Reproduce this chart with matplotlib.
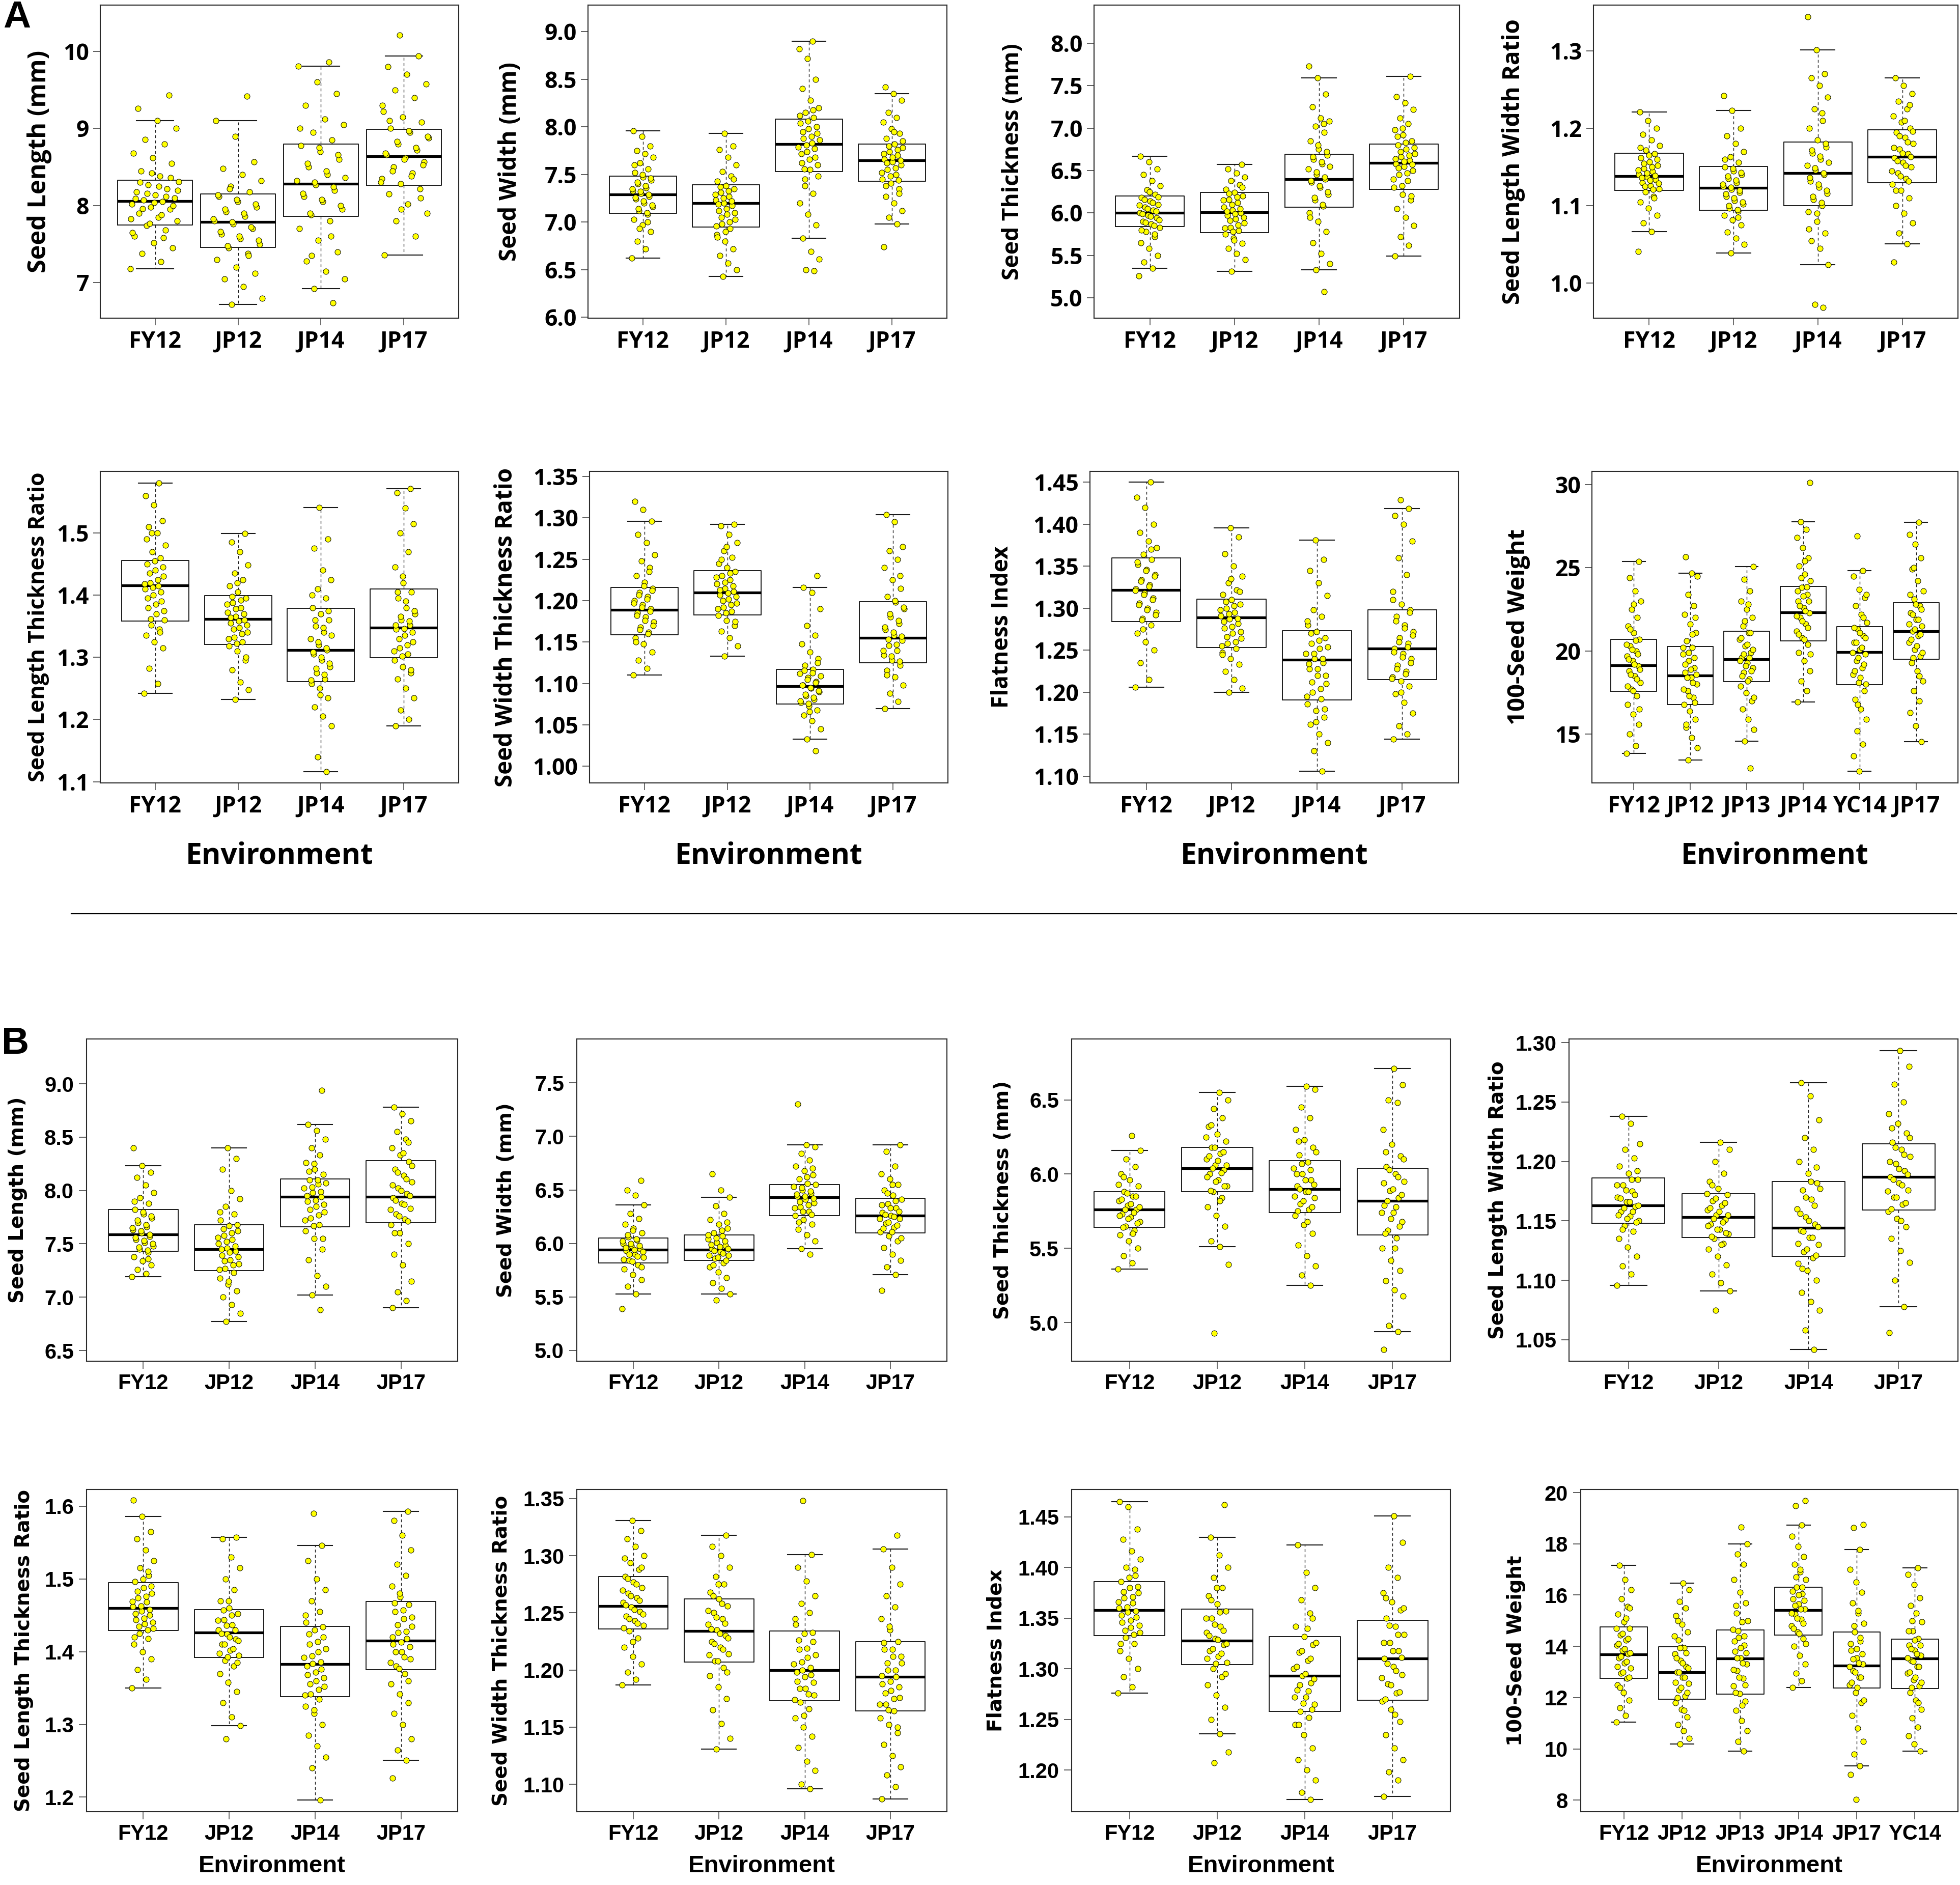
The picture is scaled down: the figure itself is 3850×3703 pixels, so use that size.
import matplotlib
matplotlib.use("Agg")
import matplotlib.pyplot as plt
import numpy as np
from matplotlib.ticker import MultipleLocator, FormatStrFormatter

# ---------------- categories / labels ----------------
ENV_4 = ["FY12", "JP12", "JP14", "JP17"]
ENV_6A = ["FY12", "JP12", "JP13", "JP14", "YC14", "JP17"]
ENV_6B = ["FY12", "JP12", "JP13", "JP14", "JP17", "YC14"]

YLABELS = ["Seed Length (mm)", "Seed Width (mm)", "Seed Thickness (mm)",
           "Seed Length Width Ratio", "Seed Length Thickness Ratio",
           "Seed Width Thickness Ratio", "Flatness Index", "100-Seed Weight"]

# box stats per group: whisker low, q1, median, q3, whisker high
# point lists: estimated seed values per group (incl. outliers)

# ---------------- panel A ----------------
A_LEN_BOX = [[7.18, 7.75, 8.06, 8.33, 9.10], [6.72, 7.46, 7.79, 8.15, 9.10],
             [6.92, 7.86, 8.28, 8.80, 9.81], [7.36, 8.26, 8.64, 8.99, 9.94]]
A_LEN_PTS = [
    [7.18, 7.27, 7.38, 7.45, 7.52, 7.6, 7.68, 7.74, 7.8, 7.85, 7.9, 7.95, 7.98, 8.02, 8.05, 8.07, 8.1,
     8.14, 8.18, 8.22, 8.27, 8.31, 8.38, 8.45, 8.55, 8.62, 8.68, 8.8, 8.86, 9.0, 9.1, 9.26, 9.43,
     7.77, 7.83, 7.88, 7.96, 8.0, 8.04, 8.09, 8.12, 8.16, 8.2, 8.25, 8.3, 8.36, 8.42, 7.65, 7.58],
    [6.72, 6.8, 6.95, 7.05, 7.12, 7.2, 7.3, 7.38, 7.45, 7.5, 7.57, 7.63, 7.7, 7.76, 7.8, 7.86, 7.92,
     7.98, 8.05, 8.12, 8.18, 8.25, 8.32, 8.4, 8.48, 8.57, 8.9, 9.1, 9.42,
     7.48, 7.55, 7.6, 7.66, 7.72, 7.79, 7.83, 7.9, 7.95, 8.02, 8.08, 8.14, 7.35, 8.22],
    [6.74, 6.92, 7.05, 7.15, 7.28, 7.4, 7.55, 7.7, 7.8, 7.88, 7.95, 8.05, 8.12, 8.2, 8.27, 8.32, 8.4,
     8.5, 8.6, 8.7, 8.78, 8.85, 8.95, 9.05, 9.12, 9.3, 9.45, 9.6, 9.81, 9.86,
     7.9, 8.0, 8.08, 8.16, 8.24, 8.3, 8.36, 8.45, 8.55, 8.66, 8.75, 9.0, 7.6, 7.35],
    [7.36, 7.6, 7.8, 7.9, 8.02, 8.15, 8.22, 8.28, 8.35, 8.42, 8.5, 8.57, 8.62, 8.66, 8.72, 8.8, 8.88,
     8.95, 9.0, 9.08, 9.15, 9.22, 9.4, 9.5, 9.58, 9.7, 9.8, 9.94, 10.21,
     8.3, 8.38, 8.45, 8.53, 8.6, 8.68, 8.75, 8.83, 8.9, 8.97, 9.1, 8.1, 7.95, 9.3]]

A_WID_BOX = [[6.62, 7.09, 7.29, 7.48, 7.96], [6.43, 6.95, 7.20, 7.39, 7.93],
             [6.83, 7.53, 7.82, 8.08, 8.90], [6.98, 7.43, 7.65, 7.82, 8.35]]
A_WID_PTS = [
    [6.62, 6.72, 6.8, 6.9, 6.97, 7.03, 7.08, 7.12, 7.16, 7.2, 7.24, 7.27, 7.3, 7.33, 7.36, 7.4, 7.44,
     7.47, 7.52, 7.56, 7.62, 7.68, 7.72, 7.75, 7.8, 7.9, 7.96,
     7.1, 7.14, 7.18, 7.22, 7.26, 7.29, 7.32, 7.35, 7.38, 7.42, 7.46, 7.5, 7.6, 7.0, 6.93],
    [6.43, 6.5, 6.57, 6.65, 6.72, 6.8, 6.87, 6.93, 6.98, 7.03, 7.08, 7.12, 7.17, 7.2, 7.23, 7.27, 7.31,
     7.35, 7.38, 7.43, 7.48, 7.53, 7.6, 7.68, 7.76, 7.8, 7.93,
     6.96, 7.0, 7.05, 7.1, 7.14, 7.19, 7.22, 7.25, 7.29, 7.33, 7.37, 7.45, 6.9, 6.84],
    [6.49, 6.5, 6.61, 6.69, 6.83, 6.97, 7.08, 7.2, 7.3, 7.38, 7.48, 7.55, 7.62, 7.68, 7.74, 7.79, 7.83,
     7.88, 7.93, 7.98, 8.04, 8.1, 8.15, 8.2, 8.28, 8.4, 8.5, 8.72, 8.82, 8.9,
     7.56, 7.6, 7.66, 7.72, 7.77, 7.81, 7.86, 7.9, 7.95, 8.0, 8.06, 8.12, 8.18, 7.45],
    [6.74, 6.98, 7.05, 7.12, 7.2, 7.27, 7.35, 7.41, 7.45, 7.5, 7.55, 7.6, 7.63, 7.66, 7.7, 7.74, 7.78,
     7.82, 7.88, 7.93, 7.98, 8.05, 8.1, 8.15, 8.28, 8.35, 8.42,
     7.44, 7.48, 7.52, 7.57, 7.62, 7.65, 7.68, 7.72, 7.76, 7.8, 7.85, 7.95, 7.38, 7.3]]

A_THK_BOX = [[5.35, 5.84, 6.00, 6.20, 6.67], [5.31, 5.77, 6.01, 6.24, 6.57],
             [5.33, 6.07, 6.40, 6.69, 7.59], [5.49, 6.28, 6.59, 6.81, 7.61]]
A_THK_PTS = [
    [5.26, 5.35, 5.42, 5.5, 5.58, 5.65, 5.72, 5.78, 5.83, 5.87, 5.9, 5.94, 5.97, 6.0, 6.03, 6.07, 6.1,
     6.14, 6.18, 6.22, 6.27, 6.32, 6.38, 6.45, 6.52, 6.6, 6.67,
     5.85, 5.89, 5.92, 5.96, 5.99, 6.02, 6.05, 6.09, 6.12, 6.16, 6.19, 6.25, 5.8, 5.75],
    [5.31, 5.45, 5.52, 5.58, 5.64, 5.7, 5.75, 5.79, 5.83, 5.88, 5.93, 5.97, 6.0, 6.03, 6.07, 6.12, 6.16,
     6.2, 6.24, 6.28, 6.33, 6.38, 6.42, 6.47, 6.52, 6.57,
     5.78, 5.82, 5.86, 5.91, 5.95, 5.99, 6.02, 6.05, 6.1, 6.15, 6.19, 6.23, 6.3, 5.68],
    [5.07, 5.33, 5.4, 5.52, 5.65, 5.78, 5.9, 6.0, 6.08, 6.15, 6.22, 6.3, 6.36, 6.4, 6.45, 6.52, 6.58,
     6.63, 6.68, 6.75, 6.85, 6.95, 7.02, 7.08, 7.12, 7.25, 7.4, 7.59, 7.73,
     6.1, 6.18, 6.25, 6.32, 6.38, 6.42, 6.48, 6.55, 6.6, 6.66, 6.72, 6.8, 5.95, 7.05],
    [5.49, 5.62, 5.72, 5.85, 5.95, 6.05, 6.15, 6.22, 6.3, 6.38, 6.45, 6.5, 6.55, 6.58, 6.62, 6.66, 6.7,
     6.75, 6.8, 6.85, 6.92, 6.98, 7.05, 7.12, 7.22, 7.3, 7.37, 7.61,
     6.32, 6.4, 6.47, 6.53, 6.57, 6.61, 6.64, 6.68, 6.72, 6.77, 6.83, 6.9, 6.2, 7.0]]

A_LW_BOX = [[1.067, 1.120, 1.138, 1.168, 1.221], [1.039, 1.094, 1.123, 1.151, 1.223],
            [1.024, 1.100, 1.142, 1.182, 1.301], [1.051, 1.130, 1.163, 1.198, 1.265]]
A_LW_PTS = [
    [1.041, 1.067, 1.078, 1.088, 1.097, 1.105, 1.112, 1.118, 1.122, 1.126, 1.13, 1.134, 1.137, 1.14,
     1.144, 1.148, 1.152, 1.157, 1.162, 1.167, 1.172, 1.178, 1.185, 1.192, 1.2, 1.21, 1.221,
     1.121, 1.125, 1.129, 1.133, 1.136, 1.139, 1.142, 1.146, 1.15, 1.155, 1.16, 1.165, 1.175, 1.11],
    [1.039, 1.05, 1.058, 1.066, 1.075, 1.082, 1.088, 1.093, 1.097, 1.102, 1.107, 1.112, 1.117, 1.121,
     1.125, 1.13, 1.135, 1.14, 1.145, 1.15, 1.156, 1.163, 1.17, 1.18, 1.19, 1.2, 1.223, 1.242,
     1.095, 1.1, 1.105, 1.11, 1.115, 1.12, 1.124, 1.128, 1.133, 1.138, 1.143, 1.148, 1.16, 1.085],
    [0.969, 0.973, 1.024, 1.045, 1.055, 1.065, 1.08, 1.092, 1.1, 1.108, 1.116, 1.124, 1.132, 1.14,
     1.146, 1.152, 1.16, 1.168, 1.176, 1.185, 1.2, 1.21, 1.225, 1.24, 1.255, 1.265, 1.27, 1.301, 1.344,
     1.104, 1.112, 1.12, 1.128, 1.136, 1.142, 1.149, 1.156, 1.164, 1.172, 1.18, 1.09, 1.07, 1.22],
    [1.027, 1.051, 1.065, 1.078, 1.09, 1.1, 1.11, 1.12, 1.128, 1.135, 1.142, 1.15, 1.156, 1.162, 1.167,
     1.173, 1.18, 1.188, 1.195, 1.2, 1.208, 1.216, 1.225, 1.235, 1.245, 1.255, 1.265,
     1.132, 1.138, 1.145, 1.152, 1.158, 1.163, 1.168, 1.175, 1.182, 1.19, 1.196, 1.21, 1.12, 1.23]]

A_LT_BOX = [[1.242, 1.358, 1.416, 1.456, 1.580], [1.232, 1.321, 1.362, 1.399, 1.499],
            [1.116, 1.261, 1.312, 1.379, 1.541], [1.190, 1.299, 1.348, 1.410, 1.571]]
A_LT_PTS = [
    [1.242, 1.258, 1.282, 1.315, 1.325, 1.335, 1.345, 1.352, 1.36, 1.37, 1.38, 1.39, 1.4, 1.41, 1.415,
     1.42, 1.43, 1.44, 1.45, 1.46, 1.47, 1.48, 1.5, 1.51, 1.52, 1.545, 1.56, 1.58,
     1.362, 1.375, 1.385, 1.395, 1.405, 1.412, 1.418, 1.425, 1.435, 1.445, 1.455, 1.49, 1.34, 1.5],
    [1.232, 1.248, 1.26, 1.28, 1.295, 1.31, 1.318, 1.325, 1.332, 1.34, 1.348, 1.355, 1.36, 1.366,
     1.372, 1.38, 1.388, 1.395, 1.405, 1.415, 1.425, 1.435, 1.448, 1.47, 1.485, 1.499,
     1.322, 1.33, 1.338, 1.345, 1.352, 1.358, 1.364, 1.37, 1.378, 1.385, 1.392, 1.398, 1.3, 1.42],
    [1.116, 1.14, 1.19, 1.205, 1.22, 1.235, 1.25, 1.258, 1.265, 1.275, 1.285, 1.295, 1.305, 1.312,
     1.32, 1.33, 1.34, 1.35, 1.36, 1.37, 1.38, 1.395, 1.41, 1.425, 1.44, 1.475, 1.49, 1.541,
     1.263, 1.272, 1.282, 1.29, 1.3, 1.308, 1.315, 1.325, 1.335, 1.348, 1.36, 1.375, 1.24, 1.4],
    [1.19, 1.2, 1.215, 1.235, 1.25, 1.265, 1.275, 1.285, 1.295, 1.305, 1.315, 1.325, 1.335, 1.345,
     1.352, 1.36, 1.37, 1.38, 1.395, 1.405, 1.42, 1.445, 1.47, 1.5, 1.515, 1.54, 1.565, 1.571,
     1.302, 1.31, 1.32, 1.33, 1.34, 1.346, 1.352, 1.358, 1.366, 1.375, 1.39, 1.405, 1.28, 1.43]]

A_WT_BOX = [[1.110, 1.159, 1.189, 1.216, 1.296], [1.133, 1.183, 1.210, 1.236, 1.292],
            [1.033, 1.075, 1.097, 1.117, 1.216], [1.070, 1.125, 1.155, 1.199, 1.304]]
A_WT_PTS = [
    [1.11, 1.118, 1.128, 1.138, 1.148, 1.155, 1.162, 1.168, 1.174, 1.18, 1.185, 1.19, 1.195, 1.2,
     1.205, 1.21, 1.215, 1.222, 1.23, 1.24, 1.248, 1.255, 1.27, 1.28, 1.296, 1.31, 1.32,
     1.16, 1.165, 1.17, 1.176, 1.182, 1.187, 1.192, 1.197, 1.202, 1.207, 1.212, 1.218, 1.15, 1.235],
    [1.133, 1.145, 1.155, 1.163, 1.17, 1.176, 1.182, 1.187, 1.192, 1.197, 1.202, 1.207, 1.211, 1.215,
     1.22, 1.225, 1.23, 1.235, 1.24, 1.245, 1.252, 1.26, 1.27, 1.28, 1.29, 1.292,
     1.185, 1.19, 1.195, 1.2, 1.205, 1.209, 1.213, 1.218, 1.222, 1.228, 1.233, 1.25, 1.175, 1.265],
    [1.019, 1.033, 1.045, 1.055, 1.062, 1.068, 1.073, 1.077, 1.081, 1.085, 1.09, 1.094, 1.098, 1.102,
     1.107, 1.112, 1.117, 1.122, 1.13, 1.138, 1.148, 1.158, 1.17, 1.19, 1.21, 1.216, 1.23,
     1.076, 1.079, 1.083, 1.087, 1.091, 1.095, 1.098, 1.101, 1.105, 1.109, 1.113, 1.116, 1.125, 1.066],
    [1.07, 1.078, 1.088, 1.098, 1.108, 1.116, 1.122, 1.128, 1.134, 1.14, 1.146, 1.152, 1.158, 1.165,
     1.172, 1.18, 1.19, 1.198, 1.205, 1.215, 1.225, 1.24, 1.25, 1.26, 1.265, 1.295, 1.304,
     1.127, 1.133, 1.14, 1.147, 1.153, 1.157, 1.162, 1.168, 1.176, 1.184, 1.192, 1.2, 1.11, 1.23]]

A_FLAT_BOX = [[1.206, 1.284, 1.322, 1.360, 1.450], [1.200, 1.253, 1.289, 1.311, 1.396],
              [1.106, 1.191, 1.239, 1.273, 1.381], [1.144, 1.215, 1.252, 1.298, 1.419]]
A_FLAT_PTS = [
    [1.206, 1.215, 1.235, 1.25, 1.26, 1.27, 1.28, 1.288, 1.295, 1.3, 1.306, 1.312, 1.318, 1.323, 1.328,
     1.334, 1.34, 1.346, 1.352, 1.358, 1.364, 1.372, 1.38, 1.39, 1.4, 1.42, 1.432, 1.45,
     1.286, 1.292, 1.298, 1.304, 1.31, 1.316, 1.321, 1.326, 1.332, 1.338, 1.345, 1.355, 1.37, 1.275],
    [1.2, 1.205, 1.215, 1.225, 1.233, 1.24, 1.247, 1.252, 1.258, 1.264, 1.27, 1.276, 1.282, 1.287,
     1.291, 1.295, 1.3, 1.305, 1.31, 1.316, 1.322, 1.33, 1.338, 1.35, 1.365, 1.385, 1.396,
     1.255, 1.26, 1.266, 1.272, 1.278, 1.284, 1.288, 1.293, 1.298, 1.303, 1.308, 1.32, 1.335, 1.245],
    [1.106, 1.13, 1.14, 1.15, 1.162, 1.17, 1.178, 1.186, 1.192, 1.2, 1.21, 1.22, 1.228, 1.235, 1.24,
     1.246, 1.252, 1.258, 1.265, 1.272, 1.28, 1.29, 1.298, 1.315, 1.33, 1.345, 1.358, 1.381,
     1.195, 1.204, 1.212, 1.22, 1.228, 1.234, 1.24, 1.246, 1.254, 1.262, 1.27, 1.18, 1.165, 1.285],
    [1.144, 1.15, 1.16, 1.175, 1.188, 1.198, 1.207, 1.213, 1.218, 1.225, 1.232, 1.24, 1.246, 1.252,
     1.258, 1.265, 1.272, 1.28, 1.29, 1.298, 1.305, 1.32, 1.34, 1.36, 1.38, 1.4, 1.41, 1.419, 1.429,
     1.216, 1.222, 1.228, 1.235, 1.242, 1.248, 1.254, 1.26, 1.268, 1.276, 1.285, 1.295, 1.2, 1.31]]

A_SW_BOX = [[13.84, 17.58, 19.14, 20.70, 25.38], [13.47, 16.79, 18.53, 20.27, 24.66],
            [14.60, 18.15, 19.52, 21.18, 25.08], [16.95, 20.60, 22.31, 23.88, 27.76],
            [12.78, 17.98, 19.94, 21.46, 24.83], [14.55, 19.52, 21.18, 22.89, 27.71]]
A_SW_PTS = [
    [13.84, 14.3, 15.0, 15.6, 16.2, 16.8, 17.3, 17.7, 18.1, 18.5, 18.8, 19.1, 19.4, 19.7, 20.0, 20.3,
     20.7, 21.1, 21.5, 22.0, 22.5, 23.0, 23.6, 24.4, 25.38,
     17.6, 17.9, 18.3, 18.6, 18.9, 19.2, 19.5, 19.8, 20.1, 20.4, 20.65, 21.3, 16.5, 22.8],
    [13.47, 14.2, 14.8, 15.4, 15.9, 16.4, 16.8, 17.2, 17.6, 18.0, 18.4, 18.7, 19.0, 19.4, 19.8, 20.2,
     20.6, 21.1, 21.6, 22.2, 22.7, 23.4, 24.5, 24.66, 25.66,
     16.9, 17.3, 17.7, 18.1, 18.4, 18.6, 18.9, 19.2, 19.6, 19.9, 20.2, 21.0, 15.6, 22.0],
    [12.98, 14.6, 15.3, 15.9, 16.5, 17.0, 17.5, 17.9, 18.3, 18.7, 19.0, 19.3, 19.6, 19.9, 20.3, 20.7,
     21.1, 21.5, 22.0, 22.5, 23.0, 23.6, 24.3, 25.08,
     18.2, 18.5, 18.8, 19.1, 19.4, 19.6, 19.8, 20.1, 20.4, 20.8, 21.1, 21.8, 17.2, 22.8],
    [16.95, 17.6, 18.2, 18.8, 19.4, 19.9, 20.4, 20.8, 21.2, 21.6, 22.0, 22.3, 22.6, 23.0, 23.4, 23.8,
     24.2, 24.6, 25.1, 25.6, 26.2, 26.8, 27.3, 27.76, 30.1,
     20.7, 21.0, 21.4, 21.8, 22.1, 22.4, 22.7, 23.0, 23.3, 23.6, 23.85, 24.4, 19.8, 25.4],
    [12.78, 13.7, 14.4, 15.2, 15.9, 16.5, 17.1, 17.6, 18.1, 18.6, 19.0, 19.4, 19.8, 20.1, 20.5, 20.9,
     21.3, 21.7, 22.2, 22.7, 23.2, 23.7, 24.5, 24.83, 26.9,
     18.0, 18.4, 18.8, 19.2, 19.6, 19.9, 20.2, 20.5, 20.8, 21.1, 21.4, 22.0, 16.8, 23.4],
    [14.55, 15.5, 16.3, 17.0, 17.6, 18.2, 18.8, 19.3, 19.7, 20.1, 20.5, 20.9, 21.2, 21.5, 21.9, 22.3,
     22.7, 23.1, 23.6, 24.2, 24.9, 25.6, 26.4, 27.0, 27.71,
     19.6, 19.9, 20.3, 20.7, 21.0, 21.3, 21.6, 21.9, 22.2, 22.5, 22.8, 23.4, 18.5, 25.0]]

# ---------------- panel B ----------------
B_LEN_BOX = [[7.19, 7.43, 7.59, 7.82, 8.23], [6.77, 7.25, 7.45, 7.68, 8.40],
             [7.02, 7.66, 7.94, 8.11, 8.62], [6.90, 7.70, 7.94, 8.28, 8.78]]
B_LEN_PTS = [
    [7.19, 7.22, 7.26, 7.3, 7.34, 7.38, 7.42, 7.45, 7.48, 7.51, 7.54, 7.57, 7.6, 7.63, 7.66, 7.7, 7.74,
     7.78, 7.82, 7.88, 7.93, 7.98, 8.05, 8.12, 8.17, 8.23, 8.4,
     7.44, 7.47, 7.5, 7.53, 7.56, 7.59, 7.62, 7.65, 7.68, 7.72, 7.76, 7.8, 7.9, 7.36],
    [6.77, 6.85, 6.93, 7.0, 7.06, 7.12, 7.18, 7.23, 7.27, 7.31, 7.35, 7.39, 7.43, 7.46, 7.5, 7.54, 7.58,
     7.62, 7.67, 7.72, 7.78, 7.85, 7.92, 8.0, 8.2, 8.3, 8.4,
     7.26, 7.3, 7.34, 7.38, 7.42, 7.45, 7.48, 7.52, 7.56, 7.6, 7.64, 7.68, 7.15, 7.8],
    [6.88, 7.02, 7.1, 7.2, 7.35, 7.45, 7.55, 7.62, 7.68, 7.74, 7.8, 7.85, 7.9, 7.94, 7.98, 8.02, 8.06,
     8.1, 8.15, 8.2, 8.26, 8.33, 8.4, 8.48, 8.56, 8.62, 8.94,
     7.67, 7.72, 7.77, 7.82, 7.87, 7.91, 7.95, 7.99, 8.03, 8.07, 8.1, 8.18, 7.55, 8.25],
    [6.9, 6.97, 7.05, 7.15, 7.3, 7.4, 7.5, 7.6, 7.68, 7.73, 7.78, 7.83, 7.88, 7.93, 7.97, 8.02, 8.08,
     8.14, 8.2, 8.27, 8.33, 8.4, 8.48, 8.55, 8.65, 8.72, 8.78,
     7.71, 7.76, 7.82, 7.87, 7.91, 7.95, 8.0, 8.05, 8.11, 8.17, 8.23, 8.35, 7.6, 8.45]]

B_WID_BOX = [[5.53, 5.82, 5.94, 6.05, 6.36], [5.53, 5.84, 5.94, 6.08, 6.43],
             [5.95, 6.26, 6.43, 6.55, 6.92], [5.71, 6.10, 6.26, 6.42, 6.92]]
B_WID_PTS = [
    [5.39, 5.53, 5.6, 5.66, 5.71, 5.76, 5.8, 5.84, 5.87, 5.9, 5.93, 5.95, 5.98, 6.0, 6.03, 6.06, 6.1,
     6.14, 6.18, 6.23, 6.28, 6.36, 6.45, 6.5, 6.59,
     5.83, 5.85, 5.88, 5.9, 5.92, 5.94, 5.96, 5.98, 6.0, 6.02, 6.04, 6.08, 5.78, 6.12],
    [5.47, 5.53, 5.58, 5.63, 5.68, 5.73, 5.78, 5.82, 5.86, 5.89, 5.92, 5.95, 5.98, 6.01, 6.04, 6.07,
     6.1, 6.14, 6.18, 6.22, 6.28, 6.35, 6.43, 6.5, 6.65,
     5.84, 5.87, 5.89, 5.91, 5.93, 5.95, 5.97, 5.99, 6.02, 6.05, 6.08, 6.12, 5.8, 6.2],
    [5.9, 5.95, 6.02, 6.08, 6.13, 6.18, 6.22, 6.26, 6.3, 6.34, 6.38, 6.41, 6.44, 6.47, 6.5, 6.53, 6.56,
     6.6, 6.64, 6.68, 6.72, 6.78, 6.84, 6.9, 6.92, 7.3,
     6.27, 6.3, 6.33, 6.36, 6.39, 6.42, 6.44, 6.46, 6.49, 6.52, 6.55, 6.62, 6.2, 6.7],
    [5.56, 5.71, 5.78, 5.84, 5.9, 5.96, 6.02, 6.07, 6.11, 6.15, 6.19, 6.23, 6.26, 6.29, 6.33, 6.37,
     6.41, 6.45, 6.5, 6.55, 6.6, 6.65, 6.72, 6.86, 6.92,
     6.11, 6.14, 6.17, 6.2, 6.23, 6.25, 6.27, 6.3, 6.33, 6.36, 6.4, 6.47, 6.05, 6.55]]

B_THK_BOX = [[5.36, 5.64, 5.76, 5.88, 6.16], [5.51, 5.88, 6.04, 6.18, 6.55],
             [5.25, 5.74, 5.90, 6.09, 6.59], [4.94, 5.59, 5.82, 6.04, 6.71]]
B_THK_PTS = [
    [5.36, 5.4, 5.45, 5.5, 5.55, 5.59, 5.62, 5.65, 5.68, 5.71, 5.73, 5.76, 5.79, 5.82, 5.85, 5.88,
     5.92, 5.96, 6.0, 6.05, 6.1, 6.16, 6.26,
     5.64, 5.67, 5.7, 5.72, 5.74, 5.76, 5.78, 5.8, 5.83, 5.85, 5.87, 5.93, 5.6, 5.98],
    [4.93, 5.39, 5.51, 5.55, 5.65, 5.72, 5.78, 5.84, 5.88, 5.92, 5.96, 6.0, 6.03, 6.06, 6.1, 6.14,
     6.18, 6.22, 6.27, 6.32, 6.38, 6.44, 6.5, 6.55,
     5.89, 5.92, 5.95, 5.98, 6.01, 6.04, 6.06, 6.09, 6.12, 6.15, 6.18, 6.25, 5.82, 6.33],
    [5.25, 5.32, 5.38, 5.45, 5.52, 5.6, 5.66, 5.72, 5.76, 5.8, 5.84, 5.88, 5.92, 5.96, 6.0, 6.04, 6.08,
     6.13, 6.18, 6.23, 6.3, 6.38, 6.45, 6.57, 6.59,
     5.75, 5.78, 5.82, 5.85, 5.88, 5.9, 5.93, 5.96, 6.0, 6.03, 6.07, 6.15, 5.68, 6.22],
    [4.82, 4.94, 4.98, 5.18, 5.22, 5.28, 5.35, 5.42, 5.5, 5.57, 5.62, 5.68, 5.74, 5.79, 5.84, 5.89,
     5.95, 6.0, 6.05, 6.12, 6.2, 6.3, 6.48, 6.5, 6.6, 6.71,
     5.6, 5.65, 5.7, 5.74, 5.78, 5.82, 5.86, 5.9, 5.94, 5.98, 6.03, 6.1, 5.5, 6.15]]

B_LW_BOX = [[1.096, 1.148, 1.163, 1.186, 1.238], [1.091, 1.136, 1.153, 1.173, 1.216],
            [1.042, 1.120, 1.144, 1.183, 1.266], [1.078, 1.159, 1.187, 1.215, 1.293]]
B_LW_PTS = [
    [1.096, 1.105, 1.112, 1.12, 1.128, 1.135, 1.141, 1.146, 1.15, 1.154, 1.158, 1.162, 1.166, 1.17,
     1.175, 1.18, 1.185, 1.19, 1.196, 1.203, 1.21, 1.215, 1.232, 1.238,
     1.149, 1.152, 1.155, 1.158, 1.161, 1.163, 1.166, 1.169, 1.172, 1.176, 1.18, 1.185, 1.143, 1.192],
    [1.075, 1.091, 1.098, 1.105, 1.113, 1.12, 1.126, 1.131, 1.135, 1.139, 1.143, 1.147, 1.151, 1.155,
     1.159, 1.163, 1.167, 1.172, 1.177, 1.183, 1.19, 1.2, 1.21, 1.216,
     1.137, 1.14, 1.143, 1.146, 1.149, 1.152, 1.155, 1.158, 1.161, 1.165, 1.169, 1.173, 1.13, 1.18],
    [1.042, 1.058, 1.075, 1.082, 1.09, 1.1, 1.108, 1.114, 1.119, 1.124, 1.13, 1.136, 1.142, 1.147,
     1.153, 1.16, 1.168, 1.176, 1.182, 1.19, 1.2, 1.21, 1.22, 1.235, 1.255, 1.266,
     1.121, 1.126, 1.131, 1.136, 1.141, 1.145, 1.15, 1.156, 1.163, 1.17, 1.177, 1.183, 1.11, 1.195],
    [1.056, 1.078, 1.1, 1.115, 1.125, 1.135, 1.145, 1.152, 1.158, 1.164, 1.17, 1.176, 1.182, 1.187,
     1.192, 1.198, 1.204, 1.21, 1.216, 1.224, 1.232, 1.24, 1.25, 1.265, 1.28, 1.293,
     1.16, 1.165, 1.17, 1.175, 1.18, 1.185, 1.189, 1.194, 1.2, 1.206, 1.212, 1.22, 1.15, 1.228]]

B_LT_BOX = [[1.350, 1.429, 1.460, 1.495, 1.586], [1.298, 1.392, 1.426, 1.458, 1.557],
            [1.196, 1.338, 1.383, 1.435, 1.546], [1.251, 1.375, 1.415, 1.469, 1.593]]
B_LT_PTS = [
    [1.35, 1.362, 1.375, 1.39, 1.4, 1.41, 1.418, 1.425, 1.432, 1.438, 1.444, 1.45, 1.456, 1.462, 1.468,
     1.474, 1.48, 1.488, 1.496, 1.505, 1.515, 1.525, 1.54, 1.555, 1.565, 1.586, 1.608,
     1.43, 1.435, 1.44, 1.446, 1.452, 1.458, 1.463, 1.469, 1.476, 1.483, 1.49, 1.5, 1.42, 1.51],
    [1.28, 1.298, 1.31, 1.33, 1.345, 1.358, 1.37, 1.38, 1.388, 1.395, 1.402, 1.41, 1.417, 1.424, 1.43,
     1.437, 1.444, 1.452, 1.46, 1.47, 1.485, 1.5, 1.515, 1.53, 1.555, 1.557,
     1.393, 1.398, 1.404, 1.41, 1.415, 1.42, 1.425, 1.43, 1.436, 1.443, 1.45, 1.457, 1.385, 1.47],
    [1.196, 1.24, 1.255, 1.27, 1.285, 1.3, 1.315, 1.325, 1.335, 1.342, 1.352, 1.36, 1.368, 1.376,
     1.384, 1.392, 1.4, 1.41, 1.42, 1.43, 1.44, 1.455, 1.47, 1.485, 1.5, 1.525, 1.546, 1.59,
     1.34, 1.348, 1.356, 1.364, 1.372, 1.38, 1.386, 1.394, 1.404, 1.414, 1.424, 1.434, 1.32, 1.45],
    [1.226, 1.251, 1.265, 1.28, 1.3, 1.315, 1.33, 1.342, 1.356, 1.37, 1.38, 1.39, 1.4, 1.41, 1.418,
     1.426, 1.435, 1.445, 1.455, 1.465, 1.475, 1.49, 1.505, 1.52, 1.54, 1.56, 1.58, 1.593,
     1.377, 1.385, 1.393, 1.4, 1.407, 1.413, 1.42, 1.428, 1.437, 1.447, 1.457, 1.467, 1.36, 1.48]]

B_WT_BOX = [[1.187, 1.236, 1.256, 1.282, 1.331], [1.131, 1.207, 1.234, 1.262, 1.318],
            [1.096, 1.173, 1.200, 1.234, 1.301], [1.087, 1.164, 1.194, 1.225, 1.306]]
B_WT_PTS = [
    [1.187, 1.192, 1.198, 1.205, 1.212, 1.22, 1.228, 1.234, 1.239, 1.243, 1.247, 1.251, 1.255, 1.259,
     1.263, 1.267, 1.272, 1.277, 1.282, 1.288, 1.294, 1.3, 1.308, 1.315, 1.322, 1.331,
     1.237, 1.241, 1.245, 1.249, 1.253, 1.257, 1.261, 1.265, 1.27, 1.275, 1.28, 1.29, 1.225, 1.298],
    [1.131, 1.14, 1.153, 1.165, 1.175, 1.185, 1.195, 1.202, 1.208, 1.214, 1.22, 1.225, 1.23, 1.235,
     1.24, 1.245, 1.25, 1.256, 1.262, 1.268, 1.275, 1.282, 1.29, 1.3, 1.308, 1.318,
     1.208, 1.213, 1.218, 1.223, 1.228, 1.232, 1.236, 1.241, 1.246, 1.252, 1.258, 1.265, 1.198, 1.275],
    [1.096, 1.1, 1.112, 1.12, 1.132, 1.142, 1.15, 1.158, 1.166, 1.172, 1.178, 1.184, 1.19, 1.196, 1.2,
     1.205, 1.211, 1.218, 1.225, 1.232, 1.24, 1.25, 1.258, 1.265, 1.278, 1.29, 1.301, 1.348,
     1.174, 1.179, 1.184, 1.189, 1.194, 1.198, 1.202, 1.207, 1.213, 1.219, 1.226, 1.233, 1.16, 1.245],
    [1.087, 1.098, 1.108, 1.115, 1.125, 1.135, 1.145, 1.152, 1.158, 1.164, 1.17, 1.176, 1.182, 1.188,
     1.194, 1.2, 1.206, 1.212, 1.218, 1.225, 1.235, 1.245, 1.255, 1.265, 1.275, 1.29, 1.306, 1.318,
     1.165, 1.17, 1.175, 1.18, 1.185, 1.19, 1.195, 1.2, 1.206, 1.212, 1.218, 1.224, 1.15, 1.238]]

B_FLAT_BOX = [[1.276, 1.333, 1.358, 1.386, 1.465], [1.236, 1.304, 1.328, 1.359, 1.430],
              [1.171, 1.258, 1.293, 1.332, 1.422], [1.174, 1.269, 1.310, 1.348, 1.451]]
B_FLAT_PTS = [
    [1.276, 1.282, 1.292, 1.3, 1.31, 1.318, 1.325, 1.331, 1.336, 1.341, 1.346, 1.351, 1.356, 1.36,
     1.365, 1.37, 1.375, 1.38, 1.386, 1.392, 1.4, 1.408, 1.416, 1.428, 1.438, 1.46, 1.465,
     1.334, 1.338, 1.343, 1.348, 1.353, 1.357, 1.361, 1.366, 1.371, 1.376, 1.381, 1.39, 1.325, 1.398],
    [1.207, 1.218, 1.236, 1.25, 1.262, 1.274, 1.284, 1.292, 1.3, 1.306, 1.312, 1.318, 1.324, 1.33,
     1.336, 1.342, 1.35, 1.357, 1.364, 1.372, 1.38, 1.39, 1.4, 1.412, 1.43, 1.462,
     1.305, 1.31, 1.315, 1.32, 1.325, 1.329, 1.333, 1.338, 1.344, 1.35, 1.356, 1.368, 1.295, 1.38],
    [1.171, 1.178, 1.19, 1.2, 1.21, 1.222, 1.235, 1.245, 1.252, 1.258, 1.265, 1.272, 1.279, 1.286,
     1.293, 1.3, 1.308, 1.316, 1.324, 1.332, 1.342, 1.355, 1.368, 1.38, 1.395, 1.422,
     1.26, 1.266, 1.272, 1.278, 1.284, 1.29, 1.295, 1.302, 1.31, 1.318, 1.326, 1.34, 1.245, 1.35],
    [1.174, 1.19, 1.198, 1.21, 1.222, 1.235, 1.248, 1.26, 1.268, 1.276, 1.285, 1.294, 1.302, 1.31,
     1.318, 1.326, 1.334, 1.342, 1.35, 1.358, 1.366, 1.375, 1.39, 1.4, 1.425, 1.451,
     1.27, 1.277, 1.284, 1.291, 1.298, 1.305, 1.311, 1.318, 1.326, 1.334, 1.343, 1.36, 1.255, 1.37]]

B_SW_BOX = [[11.05, 12.75, 13.69, 14.76, 17.16], [10.19, 11.94, 12.99, 13.98, 16.47],
            [9.91, 12.14, 13.53, 14.63, 18.00], [12.40, 14.45, 15.41, 16.30, 18.73],
            [9.34, 12.38, 13.24, 14.55, 17.78], [9.91, 12.35, 13.53, 14.28, 17.06]]
B_SW_PTS = [
    [11.05, 11.3, 11.6, 11.9, 12.2, 12.5, 12.75, 12.95, 13.15, 13.35, 13.55, 13.7, 13.85, 14.05, 14.25,
     14.45, 14.7, 14.95, 15.25, 15.55, 15.85, 16.2, 16.6, 17.16,
     12.8, 13.0, 13.2, 13.4, 13.6, 13.75, 13.9, 14.1, 14.3, 14.5, 14.7, 15.1, 12.4, 15.5],
    [10.19, 10.4, 10.7, 10.95, 11.25, 11.55, 11.8, 12.05, 12.3, 12.55, 12.8, 13.0, 13.2, 13.45, 13.7,
     13.95, 14.25, 14.55, 14.85, 15.2, 15.5, 15.75, 16.2, 16.47,
     12.0, 12.2, 12.4, 12.6, 12.8, 13.0, 13.15, 13.35, 13.55, 13.75, 13.95, 14.4, 11.5, 15.0],
    [9.91, 10.3, 10.7, 11.1, 11.5, 11.85, 12.15, 12.45, 12.75, 13.05, 13.3, 13.55, 13.8, 14.05, 14.35,
     14.65, 14.95, 15.3, 15.7, 16.1, 16.6, 17.2, 17.6, 18.0, 18.66,
     12.2, 12.5, 12.8, 13.1, 13.35, 13.55, 13.75, 13.95, 14.2, 14.4, 14.6, 15.0, 11.7, 15.6],
    [12.4, 12.65, 12.95, 13.3, 13.65, 14.0, 14.3, 14.55, 14.8, 15.05, 15.25, 15.45, 15.65, 15.85, 16.05,
     16.3, 16.6, 16.9, 17.2, 17.5, 17.9, 18.3, 18.73, 19.48, 19.69,
     14.5, 14.7, 14.9, 15.1, 15.3, 15.45, 15.6, 15.8, 16.0, 16.15, 16.3, 16.7, 14.1, 17.0],
    [8.03, 8.99, 9.34, 9.8, 10.3, 10.8, 11.3, 11.8, 12.2, 12.5, 12.8, 13.05, 13.3, 13.55, 13.85, 14.2,
     14.55, 14.9, 15.3, 15.7, 16.1, 16.5, 17.0, 17.78, 18.64, 18.75,
     12.4, 12.6, 12.8, 13.0, 13.2, 13.35, 13.5, 13.7, 13.9, 14.1, 14.35, 14.8, 11.9, 15.4],
    [9.91, 10.2, 10.5, 10.85, 11.2, 11.55, 11.9, 12.2, 12.45, 12.7, 12.95, 13.2, 13.45, 13.65, 13.85,
     14.05, 14.3, 14.6, 14.95, 15.3, 15.6, 15.9, 16.4, 16.8, 17.06,
     12.4, 12.6, 12.8, 13.0, 13.2, 13.4, 13.55, 13.7, 13.9, 14.05, 14.25, 14.6, 11.8, 15.0]]

# ---------------- styling per figure part ----------------
W, H = 3850, 3703
ARIAL = ["Liberation Sans", "Arial", "DejaVu Sans"]
HUMAN = ["Open Sans", "Lato", "DejaVu Sans"]
WIDE = ["DejaVu Sans", "Liberation Sans"]
plt.rcParams["font.family"] = ARIAL
plt.rcParams["font.weight"] = "bold"

STYLE = {
    "A": dict(tick_font=HUMAN, tick_fs=32, lab_font=HUMAN, env_font=HUMAN, env_fs=41,
              xtick_len=10, ytick_len=10, xpad=7, ypad=6),
    "B": dict(tick_font=ARIAL, tick_fs=30, lab_font=WIDE, env_font=ARIAL, env_fs=34,
              xtick_len=11, ytick_len=11, xpad=6, ypad=7),
}

fig = plt.figure(figsize=(W / 100, H / 100), dpi=100)
fig.patch.set_facecolor("white")

ROW_Y = {"A1": (10, 625), "A2": (926, 1538), "B1": (2041, 2674), "B2": (2926, 3559)}

# (row, x0, x1, envs, box, pts, ylabel, label size, ylim, step, fmt, label_dx, jitter, boxw)
panels = [
    ("A1", 197, 901, ENV_4, A_LEN_BOX, A_LEN_PTS, YLABELS[0], 35, (6.54, 10.6), 1, "%d", -120, 0.3, 0.9),
    ("A1", 1155, 1860, ENV_4, A_WID_BOX, A_WID_PTS, YLABELS[1], 33, (5.99, 9.28), 0.5, "%.1f", -153, 0.13, 0.81),
    ("A1", 2149, 2867, ENV_4, A_THK_BOX, A_THK_PTS, YLABELS[2], 32, (4.76, 8.45), 0.5, "%.1f", -160, 0.13, 0.81),
    ("A1", 3130, 3846, ENV_4, A_LW_BOX, A_LW_PTS, YLABELS[3], 33, (0.955, 1.359), 0.1, "%.1f", -158, 0.13, 0.81),
    ("A2", 197, 901, ENV_4, A_LT_BOX, A_LT_PTS, YLABELS[4], 31, (1.098, 1.599), 0.1, "%.1f", -121, 0.13, 0.81),
    ("A2", 1158, 1862, ENV_4, A_WT_BOX, A_WT_PTS, YLABELS[5], 33, (0.980, 1.356), 0.05, "%.2f", -165, 0.13, 0.81),
    ("A2", 2141, 2865, ENV_4, A_FLAT_BOX, A_FLAT_PTS, YLABELS[6], 32, (1.092, 1.463), 0.05, "%.2f", -173, 0.13, 0.81),
    ("A2", 3127, 3846, ENV_6A, A_SW_BOX, A_SW_PTS, YLABELS[7], 34, (12.08, 30.78), 5, "%d", -145, 0.13, 0.81),
    ("B1", 170, 899, ENV_4, B_LEN_BOX, B_LEN_PTS, YLABELS[0], 28, (6.40, 9.42), 0.5, "%.1f", -135, 0.13, 0.81),
    ("B1", 1133, 1860, ENV_4, B_WID_BOX, B_WID_PTS, YLABELS[1], 28, (4.90, 7.91), 0.5, "%.1f", -139, 0.13, 0.81),
    ("B1", 2105, 2849, ENV_4, B_THK_BOX, B_THK_PTS, YLABELS[2], 28, (4.74, 6.91), 0.5, "%.1f", -135, 0.13, 0.81),
    ("B1", 3082, 3846, ENV_4, B_LW_BOX, B_LW_PTS, YLABELS[3], 28, (1.032, 1.303), 0.05, "%.2f", -140, 0.13, 0.81),
    ("B2", 170, 899, ENV_4, B_LT_BOX, B_LT_PTS, YLABELS[4], 28, (1.180, 1.623), 0.1, "%.1f", -123, 0.13, 0.81),
    ("B2", 1133, 1860, ENV_4, B_WT_BOX, B_WT_PTS, YLABELS[5], 28, (1.076, 1.358), 0.05, "%.2f", -148, 0.13, 0.81),
    ("B2", 2105, 2849, ENV_4, B_FLAT_BOX, B_FLAT_PTS, YLABELS[6], 28, (1.159, 1.477), 0.05, "%.2f", -148, 0.13, 0.81),
    ("B2", 3105, 3846, ENV_6B, B_SW_BOX, B_SW_PTS, YLABELS[7], 28, (7.55, 20.12), 2, "%d", -127, 0.13, 0.81),
]

ENV_LABEL_Y = {"A2": 1682, "B2": 3666}

for row, x0, x1, envs, box, pts, ylab, lab_fs, ylim, step, fmt, ldx, jit, bw in panels:
    y0, y1 = ROW_Y[row]
    st = STYLE[row[0]]
    ax = fig.add_axes([x0 / W, 1 - y1 / H, (x1 - x0) / W, (y1 - y0) / H])
    n = len(envs)
    pos = np.arange(1, n + 1)

    stats = [dict(whislo=s[0], q1=s[1], med=s[2], q3=s[3], whishi=s[4], fliers=[]) for s in box]
    ax.bxp(stats, positions=pos, widths=bw, capwidths=bw * 0.5, showfliers=False,
           boxprops=dict(color="#1a1a1a", linewidth=1.4),
           medianprops=dict(color="black", linewidth=3.8, solid_capstyle="butt"),
           whiskerprops=dict(color="#1a1a1a", linewidth=1.0, linestyle=(0, (4, 3.5))),
           capprops=dict(color="#1a1a1a", linewidth=1.5))

    for i, vals in enumerate(pts):
        k = np.arange(len(vals))
        off = ((k * 0.6180339 + 0.37 * i) % 1.0 - 0.5) * 2 * jit
        ax.scatter(pos[i] + off, vals, s=64, c="#FFFF00", edgecolors="black",
                   linewidths=0.7, zorder=3)

    ax.set_xlim(0.5 - 0.04 * n, n + 0.5 + 0.04 * n)
    ax.set_ylim(*ylim)
    ax.set_xticks(pos)
    ax.set_xticklabels(envs)
    ax.yaxis.set_major_locator(MultipleLocator(step))
    ax.yaxis.set_major_formatter(FormatStrFormatter(fmt))
    ax.tick_params(axis="y", length=st["ytick_len"], width=1.1, pad=st["ypad"],
                   labelsize=st["tick_fs"], color="#333333")
    ax.tick_params(axis="x", length=st["xtick_len"], width=1.1, pad=st["xpad"],
                   labelsize=st["tick_fs"], color="#444444")
    for lab in ax.get_xticklabels() + ax.get_yticklabels():
        lab.set_fontfamily(st["tick_font"])
        lab.set_fontweight("bold")

    for side in ax.spines:
        ax.spines[side].set_linewidth(1.5)
        ax.spines[side].set_color("#2a2a2a")

    ax.set_ylabel(ylab, fontsize=lab_fs, fontweight="bold", family=st["lab_font"], va="center")
    ax.yaxis.set_label_coords(ldx / (x1 - x0), 0.5)

    if row in ENV_LABEL_Y:
        fig.text((x0 + x1) / 2 / W, 1 - ENV_LABEL_Y[row] / H, "Environment", family=st["env_font"],
                 fontsize=st["env_fs"], fontweight="bold", ha="center", va="center")

# panel letters and divider
fig.text(33 / W, 1 - 34 / H, "A", fontsize=54, fontweight="bold", ha="center", va="center")
fig.text(30 / W, 1 - 2050 / H, "B", fontsize=54, fontweight="bold", ha="center", va="center")
fig.add_artist(plt.Line2D([140 / W, 3843 / W], [1 - 1795 / H, 1 - 1795 / H],
                          color="black", linewidth=1.6))

fig.savefig("out.png", dpi=100, facecolor="white")
